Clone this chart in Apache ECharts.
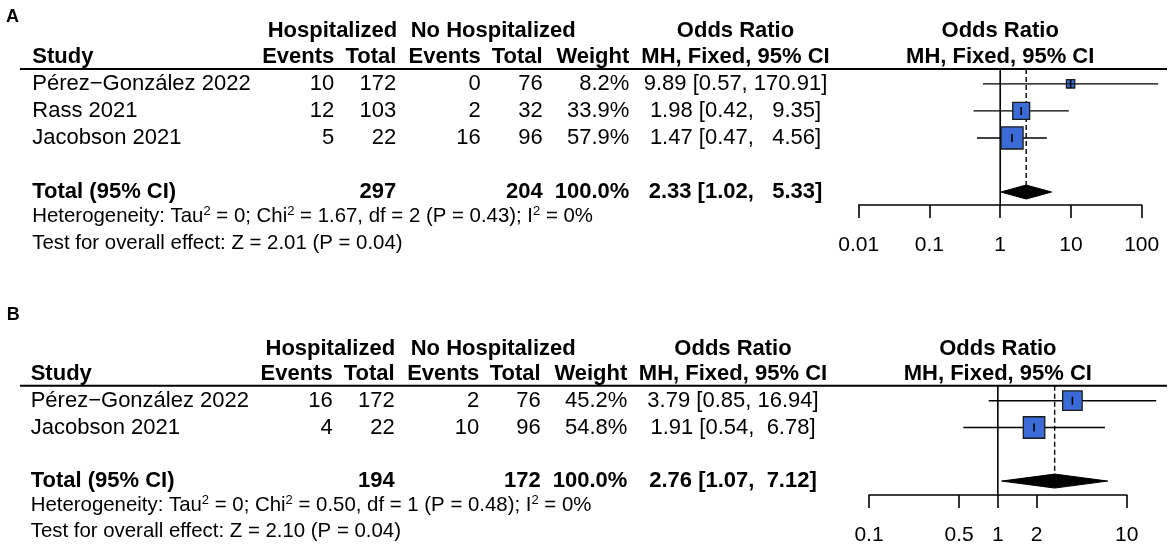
<!DOCTYPE html>
<html><head><meta charset="utf-8">
<script src="https://cdn.jsdelivr.net/npm/echarts@6/dist/echarts.min.js"></script>
<style>html,body{margin:0;padding:0;background:#fff}#c{width:1170px;height:554px}</style>
</head><body><div id="c"></div>
<script>
// ================= DATA =================
// Panel A
const studiesA = ['Pérez\u2212González 2022', 'Rass 2021', 'Jacobson 2021'];
const hospEventsA = [10, 12, 5];
const hospTotalA = [172, 103, 22];
const noHospEventsA = [0, 2, 16];
const noHospTotalA = [76, 32, 96];
const weightA = [8.2, 33.9, 57.9];
const orA = [9.89, 1.98, 1.47];
const lowerA = [0.57, 0.42, 0.47];
const upperA = [170.91, 9.35, 4.56];
const pooledA = [2.33, 1.02, 5.33];          // estimate, lower, upper
const totalsA = [297, 204];                  // hospitalized total, no hospitalized total
const hetA = ['0', '1.67', '2', '0.43', '0%']; // tau2, chi2, df, p, I2
const overallA = ['2.01', '0.04'];           // Z, P
const ticksA = [0.01, 0.1, 1, 10, 100];

// Panel B
const studiesB = ['Pérez\u2212González 2022', 'Jacobson 2021'];
const hospEventsB = [16, 4];
const hospTotalB = [172, 22];
const noHospEventsB = [2, 10];
const noHospTotalB = [76, 96];
const weightB = [45.2, 54.8];
const orB = [3.79, 1.91];
const lowerB = [0.85, 0.54];
const upperB = [16.94, 6.78];
const pooledB = [2.76, 1.07, 7.12];
const totalsB = [194, 172];
const hetB = ['0', '0.50', '1', '0.48', '0%'];
const overallB = ['2.10', '0.04'];
const ticksB = [0.1, 0.5, 1, 2, 10];

// ================= LAYOUT / STYLE =================
const FONT = '"Liberation Sans", Arial, Helvetica, sans-serif';
const FS = 22, FS_SMALL = 20.4, FS_AXIS = 21;
const BOX_FILL = '#3a6bd6', BOX_STROKE = '#1a1a1a';
const BOX_K = 2.9;
const LAYOUT = {
  A: {top: 69, height: 136, yMin: -0.55, yMax: 4.48, left: 858.7, width: 283,
      cols: {study: 32.3, hEv: 334.3, hTot: 396.3, nEv: 480.7, nTot: 542.7, w: 629.3, or: 735.5},
      hosp: 267.7, noHosp: 410.7, letter: {x: 6, y: 18}, lineX: [20, 1167]},
  B: {top: 385.7, height: 109.3, yMin: -0.56, yMax: 3.52, left: 869, width: 257.7,
      cols: {study: 30.7, hEv: 332.7, hTot: 394.7, nEv: 479.3, nTot: 540.7, w: 627.3, or: 733},
      hosp: 265.5, noHosp: 410.7, letter: {x: 6.7, y: 316}, lineX: [20, 1167]}
};
const HEAD1 = -1.95, HEAD2 = -0.99;
const HET_OFF = 0.91, TEST_OFF = 1.89; // offsets below the total row

const pad = (s, w) => ' '.repeat(Math.max(0, w - s.length)) + s;
function ciStrings(est, lo, hi) {
  const e = est.map(v => v.toFixed(2)), l = lo.map(v => v.toFixed(2)), h = hi.map(v => v.toFixed(2));
  const we = Math.max(...e.map(s => s.length)), wl = Math.max(...l.map(s => s.length)), wh = Math.max(...h.map(s => s.length));
  return e.map((s, i) => pad(s, we) + ' [' + pad(l[i], wl) + ', ' + pad(h[i], wh) + ']');
}

function buildCells(L, d) {
  const c = L.cols, n = d.studies.length, cells = [];
  const push = (row, x, align, text, bold, size, rich) => cells.push({row, x, align, text, bold, size: size || FS, rich});
  // headers
  push(HEAD1, L.hosp, 'left', 'Hospitalized', true);
  push(HEAD1, L.noHosp, 'left', 'No Hospitalized', true);
  push(HEAD1, c.or, 'center', 'Odds Ratio', true);
  push(HEAD1, 'one', 'center', 'Odds Ratio', true);
  push(HEAD2, c.study, 'left', 'Study', true);
  push(HEAD2, c.hEv, 'right', 'Events', true);
  push(HEAD2, c.hTot, 'right', 'Total', true);
  push(HEAD2, c.nEv, 'right', 'Events', true);
  push(HEAD2, c.nTot, 'right', 'Total', true);
  push(HEAD2, c.w, 'right', 'Weight', true);
  push(HEAD2, c.or, 'center', 'MH, Fixed, 95% CI', true);
  push(HEAD2, 'one', 'center', 'MH, Fixed, 95% CI', true);
  const ci = ciStrings(d.or.concat([d.pooled[0]]), d.lower.concat([d.pooled[1]]), d.upper.concat([d.pooled[2]]));
  for (let i = 0; i < n; i++) {
    push(i, c.study, 'left', d.studies[i]);
    push(i, c.hEv, 'right', String(d.hEv[i]));
    push(i, c.hTot, 'right', String(d.hTot[i]));
    push(i, c.nEv, 'right', String(d.nEv[i]));
    push(i, c.nTot, 'right', String(d.nTot[i]));
    push(i, c.w, 'right', d.weight[i].toFixed(1) + '%');
    push(i, c.or, 'center', ci[i]);
  }
  const tr = n + 1;
  push(tr, c.study, 'left', 'Total (95% CI)', true);
  push(tr, c.hTot, 'right', String(d.totals[0]), true);
  push(tr, c.nTot, 'right', String(d.totals[1]), true);
  push(tr, c.w, 'right', d.weight.reduce((a, b) => a + b, 0).toFixed(1) + '%', true);
  push(tr, c.or, 'center', ci[n], true);
  const h = d.het;
  const hetText = '{n|Heterogeneity: Tau}{s|2}{n| = ' + h[0] + '; Chi}{s|2}{n| = ' + h[1] + ', df = ' + h[2] +
    ' (P = ' + h[3] + '); I}{s|2}{n| = ' + h[4] + '}';
  push(tr + HET_OFF, c.study, 'left', hetText, false, FS_SMALL, true);
  push(tr + TEST_OFF, c.study, 'left', 'Test for overall effect: Z = ' + d.overall[0] + ' (P = ' + d.overall[1] + ')', false, FS_SMALL);
  return cells;
}

const dataA = {studies: studiesA, hEv: hospEventsA, hTot: hospTotalA, nEv: noHospEventsA, nTot: noHospTotalA,
  weight: weightA, or: orA, lower: lowerA, upper: upperA, pooled: pooledA, totals: totalsA, het: hetA, overall: overallA};
const dataB = {studies: studiesB, hEv: hospEventsB, hTot: hospTotalB, nEv: noHospEventsB, nTot: noHospTotalB,
  weight: weightB, or: orB, lower: lowerB, upper: upperB, pooled: pooledB, totals: totalsB, het: hetB, overall: overallB};

const cellsA = buildCells(LAYOUT.A, dataA);
const cellsB = buildCells(LAYOUT.B, dataB);

const RICH = {
  n: {fontSize: FS_SMALL, fontFamily: FONT, fill: '#000', lineHeight: 24},
  s: {fontSize: 13, fontFamily: FONT, fill: '#000', lineHeight: 13, verticalAlign: 'top'}
};

function textSeries(cells, gi) {
  return {
    type: 'custom', xAxisIndex: gi, yAxisIndex: gi, clip: false, silent: true,
    data: cells.map(c => [1, c.row]),
    renderItem: function (params, api) {
      const c = cells[params.dataIndex];
      const p = api.coord([1, api.value(1)]);
      const x = c.x === 'one' ? p[0] : c.x;
      const style = {text: c.text, x: x, y: p[1], align: c.align, verticalAlign: 'middle',
        fontFamily: FONT, fontSize: c.size, fontWeight: c.bold ? 'bold' : 'normal', fill: '#000'};
      if (c.rich) style.rich = RICH;
      return {type: 'text', style: style};
    }
  };
}

function studySeries(d, gi) {
  return {
    type: 'custom', xAxisIndex: gi, yAxisIndex: gi, clip: false, silent: true,
    encode: {x: 0, y: 1},
    data: d.or.map((v, i) => [v, i, d.lower[i], d.upper[i], d.weight[i]]),
    renderItem: function (params, api) {
      const row = api.value(1);
      const pE = api.coord([api.value(0), row]);
      const pL = api.coord([api.value(2), row]);
      const pH = api.coord([api.value(3), row]);
      const s = BOX_K * Math.sqrt(api.value(4));
      const ch = [
        {type: 'line', shape: {x1: pL[0], y1: pE[1], x2: pH[0], y2: pE[1]}, style: {stroke: '#000', lineWidth: 1.4}},
        {type: 'rect', shape: {x: pE[0] - s / 2, y: pE[1] - s / 2, width: s, height: s}, style: {fill: BOX_FILL, stroke: BOX_STROKE, lineWidth: 1.3}},
        {type: 'line', shape: {x1: pE[0], y1: pE[1] - 4, x2: pE[0], y2: pE[1] + 4}, style: {stroke: '#000', lineWidth: 1.6}}
      ];
      if (s < 10) ch.push({type: 'line', shape: {x1: pE[0] - s / 2, y1: pE[1], x2: pE[0] + s / 2, y2: pE[1]}, style: {stroke: '#000', lineWidth: 1}});
      return {type: 'group', children: ch};
    }
  };
}

function pooledSeries(d, L, gi) {
  const n = d.studies.length;
  return {
    type: 'custom', xAxisIndex: gi, yAxisIndex: gi, clip: false, silent: true,
    encode: {x: 0, y: 1},
    data: [[d.pooled[0], n + 1, d.pooled[1], d.pooled[2]]],
    renderItem: function (params, api) {
      const row = api.value(1);
      const pE = api.coord([api.value(0), row]);
      const pL = api.coord([api.value(2), row]);
      const pH = api.coord([api.value(3), row]);
      const top = api.coord([1, L.yMin]);
      const bottom = api.coord([1, L.yMax]);
      const hh = 7;
      return {type: 'group', children: [
        {type: 'line', shape: {x1: L.lineX[0], y1: top[1], x2: L.lineX[1], y2: top[1]}, style: {stroke: '#000', lineWidth: 2}},
        {type: 'line', shape: {x1: top[0], y1: top[1], x2: top[0], y2: bottom[1]}, style: {stroke: '#000', lineWidth: 1.6}},
        {type: 'line', shape: {x1: pE[0], y1: top[1], x2: pE[0], y2: pE[1] - hh}, style: {stroke: '#000', lineWidth: 1.4, lineDash: [5, 3]}},
        {type: 'polygon', shape: {points: [[pL[0], pE[1]], [pE[0], pE[1] - hh], [pH[0], pE[1]], [pE[0], pE[1] + hh]]}, style: {fill: '#000', stroke: '#000', lineWidth: 1}}
      ]};
    }
  };
}

function xAxisFor(gi, ticks) {
  const fmt = v => {
    const t = ticks.find(t => Math.abs(Math.log10(t) - Math.log10(v)) < 1e-6);
    return t === undefined ? '' : String(t);
  };
  return {
    gridIndex: gi, type: 'log', logBase: 10, min: ticks[0], max: ticks[ticks.length - 1],
    axisLine: {show: true, onZero: false, lineStyle: {color: '#000', width: 1.6}},
    axisTick: {show: true, inside: false, length: 13, customValues: ticks, lineStyle: {color: '#000', width: 1.6}},
    axisLabel: {show: true, customValues: ticks, margin: 30, fontSize: FS_AXIS, fontFamily: FONT, color: '#000', formatter: fmt, hideOverlap: false},
    minorTick: {show: false}, splitLine: {show: false}
  };
}

function yAxisFor(gi, L) {
  return {gridIndex: gi, type: 'value', inverse: true, min: L.yMin, max: L.yMax, show: false};
}

const chart = echarts.init(document.getElementById('c'), null, {renderer: 'canvas'});
chart.setOption({
  animation: false,
  backgroundColor: '#fff',
  grid: [
    {left: LAYOUT.A.left, top: LAYOUT.A.top, width: LAYOUT.A.width, height: LAYOUT.A.height, containLabel: false},
    {left: LAYOUT.B.left, top: LAYOUT.B.top, width: LAYOUT.B.width, height: LAYOUT.B.height, containLabel: false}
  ],
  xAxis: [xAxisFor(0, ticksA), xAxisFor(1, ticksB)],
  yAxis: [yAxisFor(0, LAYOUT.A), yAxisFor(1, LAYOUT.B)],
  graphic: [
    {type: 'text', left: LAYOUT.A.letter.x, top: LAYOUT.A.letter.y - 10, style: {text: 'A', font: 'bold 18px ' + FONT, fill: '#000'}},
    {type: 'text', left: LAYOUT.B.letter.x, top: LAYOUT.B.letter.y - 10, style: {text: 'B', font: 'bold 18px ' + FONT, fill: '#000'}}
  ],
  series: [
    pooledSeries(dataA, LAYOUT.A, 0), studySeries(dataA, 0), textSeries(cellsA, 0),
    pooledSeries(dataB, LAYOUT.B, 1), studySeries(dataB, 1), textSeries(cellsB, 1)
  ]
});
</script>
</body></html>
